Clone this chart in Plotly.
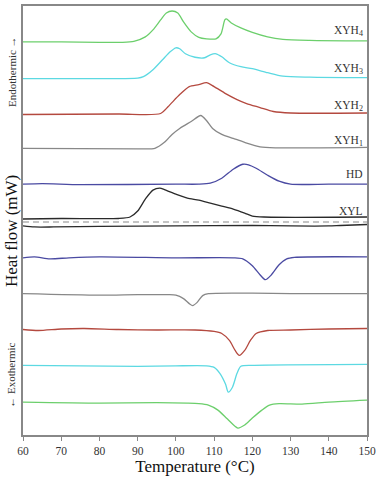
import plotly.graph_objects as go

# DSC curves: temperature (°C) and heat flow (arbitrary offset units)
# heating scans (endothermic, upper half)
t_xyh4_h = [60, 70, 80, 86, 89, 92, 94, 96, 97.5, 99, 100.5, 102, 104, 106, 108, 110.5, 111.8, 112.8, 113.2, 114.5, 117, 120, 124, 128, 135, 150]
q_xyh4_h = [395, 395, 394.5, 394.5, 395.5, 400, 407, 417, 424, 426, 424, 415, 405, 399.5, 398, 398, 403, 417, 418, 414, 409, 404.5, 400, 397.5, 396.5, 396]

t_xyh3_h = [60, 80, 90, 91.5, 94, 96.5, 98.5, 100, 101, 102.5, 105, 107.5, 109, 110.5, 112, 114, 117, 120, 124, 128, 135, 150]
q_xyh3_h = [358, 358, 358.5, 360, 367, 377, 385, 389, 388, 383, 379.5, 379, 382, 383, 380, 374, 370, 368, 364, 360.5, 359.5, 359]

t_xyh2_h = [60, 85, 96, 98, 101, 103.5, 106, 108, 110, 113, 116, 118.5, 122, 125.5, 130, 150]
q_xyh2_h = [322, 322.5, 323, 330, 342, 350, 352, 354, 350, 343, 337, 333, 329, 325, 323.5, 323.5]

t_xyh1_h = [60, 90, 94.5, 97, 99, 101, 104, 106.5, 108, 109.6, 112, 115, 118, 122, 126, 150]
q_xyh1_h = [288, 287.5, 288, 294, 302, 308, 315, 321, 316, 308, 302, 298, 294, 289.5, 288.5, 289]

t_hd_h = [60, 65, 75, 100, 106, 109, 112, 115, 117.5, 119, 121, 124, 127, 130, 140, 150]
q_hd_h = [252, 252.5, 251.5, 252, 252, 253, 258, 267, 272, 271.5, 268, 261, 255, 252, 252, 252]

t_xyl_h = [60, 70, 85, 88, 90, 92, 94, 95.8, 97, 100, 103, 106, 109, 112, 115, 118, 120, 123, 150]
q_xyl_h = [217, 217.5, 217.5, 219, 225, 237, 246, 248, 246.5, 242, 238, 236, 233, 230, 227, 223, 220, 219, 219]

baseline_q = 214

# cooling scans (exothermic, lower half)
t_xyl_c = [60, 63, 68, 80, 100, 120, 130, 140, 143, 150]
q_xyl_c = [210, 209, 209, 209.5, 210, 210.5, 210, 210, 210.5, 211.5]

t_hd_c = [60, 63, 67, 72, 80, 100, 115, 117.5, 120, 122, 123.4, 125, 127, 129, 131, 150]
q_hd_c = [178, 179, 177, 178, 179, 178, 178, 177, 170, 161, 156, 161, 171, 177, 178.5, 179]

t_xyh1_c = [60, 80, 90, 98, 100, 102, 103.5, 104.4, 105.5, 107, 108.5, 120, 130, 150]
q_xyh1_c = [142, 140.5, 141, 141, 140.5, 137, 132, 130, 133, 140, 142, 142.5, 142, 142]

t_xyh2_c = [60, 64, 70, 76, 85, 95, 105, 110, 112, 114, 115.5, 116.6, 118, 119.5, 121, 124, 130, 140, 150]
q_xyh2_c = [106, 105, 106.5, 107, 106, 105.5, 105.5, 104, 102, 95, 85, 80, 85, 95, 102, 105, 105.5, 106.5, 107]

t_xyh3_c = [60, 75, 90, 100, 108, 110, 111.5, 113, 113.7, 114.8, 116, 117, 120, 150]
q_xyh3_c = [70, 69.5, 69, 69.5, 69.5, 68, 62, 51, 43, 48, 62, 69, 70, 71]

t_xyh4_c = [60, 80, 95, 103, 106, 108.5, 111, 113.5, 116.2, 118, 120, 122.5, 124.5, 127, 133, 140, 150]
q_xyh4_c = [33, 32, 32.5, 32, 31.5, 30, 25, 16, 7, 10, 17, 25, 30, 31.5, 31, 33, 35]

labels = ["XYH<sub>4</sub>", "XYH<sub>3</sub>", "XYH<sub>2</sub>", "XYH<sub>1</sub>", "HD", "XYL"]
label_q = [406, 368, 331, 295, 262, 225]

GREEN = "#6ccf6c"
CYAN = "#5cd9e2"
RED = "#b4493f"
GRAY = "#888888"
BLUE = "#4a4aa2"
BLACK = "#2a2a2a"

curves = [
    (t_xyh4_h, q_xyh4_h, GREEN),
    (t_xyh3_h, q_xyh3_h, CYAN),
    (t_xyh2_h, q_xyh2_h, RED),
    (t_xyh1_h, q_xyh1_h, GRAY),
    (t_hd_h, q_hd_h, BLUE),
    (t_xyl_h, q_xyl_h, BLACK),
    (t_xyl_c, q_xyl_c, BLACK),
    (t_hd_c, q_hd_c, BLUE),
    (t_xyh1_c, q_xyh1_c, GRAY),
    (t_xyh2_c, q_xyh2_c, RED),
    (t_xyh3_c, q_xyh3_c, CYAN),
    (t_xyh4_c, q_xyh4_c, GREEN),
]

SERIF = "Liberation Serif, Times New Roman, serif"

fig = go.Figure()
for t, q, c in curves:
    fig.add_trace(go.Scatter(x=t, y=q, mode="lines",
                             line=dict(color=c, width=1.3, shape="spline", smoothing=0.7),
                             showlegend=False, hoverinfo="skip"))

# dashed separation line between heating and cooling
fig.add_trace(go.Scatter(x=[60, 150], y=[baseline_q, baseline_q], mode="lines",
                         line=dict(color="#8a8a8a", width=1.2, dash="6px,4px"),
                         showlegend=False, hoverinfo="skip"))

for lab, q in zip(labels, label_q):
    fig.add_annotation(x=0.995, xref="paper", y=q, yref="y", text=lab, showarrow=False,
                       xanchor="right", yanchor="middle", font=dict(family=SERIF, size=11.5, color="#333"))

# side labels, centred on the strip left of the axis
side = [("Heat flow (mW)", 0.476, 17, "#111"),
        ("Endothermic \u2192", 0.847, 11, "#333"),
        ("\u2190 Exothermic", 0.139, 11, "#333")]
for txt, yp, sz, col in side:
    fig.add_annotation(x=-0.034, xref="paper", y=yp, yref="paper", text=txt, textangle=-90,
                       xanchor="center", yanchor="middle", showarrow=False,
                       font=dict(family=SERIF, size=sz, color=col))

fig.update_xaxes(range=[60, 150], tickmode="array", tickvals=list(range(60, 151, 10)),
                 ticks="outside", ticklen=4, tickcolor="#888", showgrid=False, zeroline=False,
                 showline=True, linecolor="#888", linewidth=1.5, mirror=True,
                 tickfont=dict(family=SERIF, size=11.5, color="#333"),
                 title=dict(text="Temperature (\u00b0C)", font=dict(family=SERIF, size=17, color="#111"), standoff=2))
fig.update_yaxes(range=[0, 431], showticklabels=False, ticks="", showgrid=False, zeroline=False,
                 showline=True, linecolor="#888", linewidth=1.5, mirror=True)

fig.update_layout(width=380, height=480, margin=dict(l=23, r=11, t=4, b=45),
                  plot_bgcolor="white", paper_bgcolor="white")

fig.write_html("out.html", config={"displayModeBar": False},
               post_script="document.body.style.margin='0';")
